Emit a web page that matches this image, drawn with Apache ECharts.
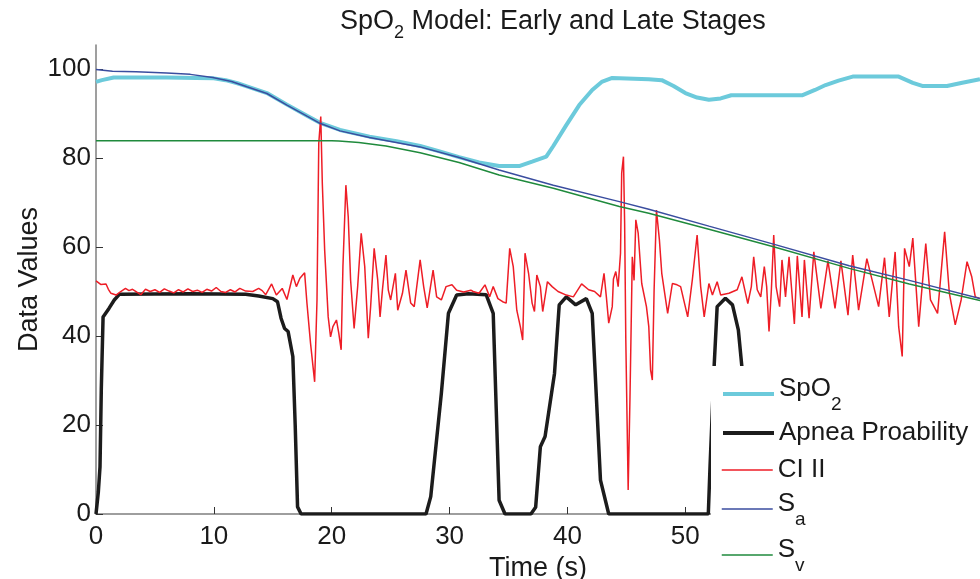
<!DOCTYPE html>
<html>
<head>
<meta charset="utf-8">
<script src="https://cdn.jsdelivr.net/npm/echarts@6/dist/echarts.min.js"></script>
<style>html,body{margin:0;padding:0;background:#fff}#c{width:980px;height:579px}</style>
</head>
<body>
<div id="c"></div>
<script>
// ---------- data ----------
var xTicks = [0, 10, 20, 30, 40, 50, 60, 70];
var yTicks = [0, 20, 40, 60, 80, 100];

var spo2Time = [0, 0.5, 1.5, 3, 6, 8.5, 10, 11, 12, 12.8, 14.5, 16.2, 17.9, 19, 20.7, 23.2, 25.5, 27.5, 29, 30.8, 32.5, 34.2, 35.9, 37.0, 38.2, 38.8, 39.9, 41.0, 42.1, 42.9, 43.8, 46.9, 48.0, 49.0, 50.0, 51.0, 52.0, 53.0, 53.9, 59.9, 61.0, 61.9, 63.0, 64.2, 68.1, 69.3, 70.1, 72.2, 73.5, 75];
var spo2Value = [97.1, 97.5, 98.1, 98.1, 98.1, 98.0, 97.9, 97.5, 96.8, 96.1, 94.6, 92.0, 89.5, 87.9, 86.3, 84.8, 83.8, 82.7, 81.6, 80.2, 79.0, 78.2, 78.2, 79.2, 80.3, 82.7, 87.4, 91.9, 95.3, 97.1, 98.0, 97.7, 97.5, 96.2, 94.6, 93.6, 93.1, 93.4, 94.1, 94.1, 95.3, 96.4, 97.4, 98.3, 98.3, 96.9, 96.2, 96.2, 96.9, 97.7];

var apneaTime = [0, 0.2, 0.34, 0.45, 0.6, 1.1, 1.55, 2.0, 8, 12.7, 13.8, 15.0, 15.4, 15.7, 16.0, 16.3, 16.7, 16.9, 17.1, 17.4, 28.0, 28.4, 29.3, 29.9, 30.6, 31.6, 33.1, 33.7, 34.2, 34.7, 36.9, 37.3, 37.7, 38.1, 38.9, 39.3, 39.9, 40.7, 41.6, 42.1, 42.8, 43.5, 51.95, 52.1, 52.45, 52.7, 53.4, 54.0, 54.5, 54.8, 55.3, 55.6, 75];
var apneaValue = [0, 5, 10.6, 28, 44.3, 46.2, 48.1, 49.4, 49.5, 49.4, 49.0, 48.4, 47.7, 44, 41.7, 41.0, 35.4, 20, 1.6, 0, 0, 3.9, 27.1, 45.1, 49.2, 49.5, 49.3, 45.1, 3.1, 0, 0, 1.5, 15.1, 17.4, 31.6, 47.0, 48.8, 47.0, 48.4, 45.1, 7.6, 0, 0, 11, 33.5, 46.6, 48.5, 47.0, 41.3, 33, 10, 0, 0];

var ciTime = [0, 0.4, 0.85, 1.05, 1.27, 1.7, 2.1, 2.5, 2.8, 3.1, 3.5, 3.8, 4.2, 4.6, 5.0, 5.4, 5.8, 6.2, 6.6, 7.0, 7.4, 7.8, 8.2, 8.6, 9.0, 9.4, 9.8, 10.2, 10.6, 11.0, 11.4, 11.8, 12.2, 12.7, 13.3, 13.8, 14.1, 14.4, 14.9, 15.3, 15.8, 16.2, 16.7, 17.0, 17.3, 17.7, 17.9, 18.2, 18.55, 18.75, 18.9, 19.07, 19.2, 19.4, 19.7, 19.9, 20.1, 20.4, 20.6, 20.8, 20.95, 21.2, 21.4, 21.6, 21.9, 22.2, 22.5, 22.8, 23.1, 23.3, 23.6, 23.9, 24.1, 24.3, 24.6, 24.8, 25.0, 25.4, 25.6, 26.0, 26.3, 26.7, 27.0, 27.5, 27.8, 28.1, 28.6, 28.9, 29.3, 29.7, 30.2, 30.6, 31.2, 31.8, 32.0, 32.5, 33.0, 33.4, 33.7, 34.1, 34.5, 34.8, 35.1, 35.4, 35.7, 36.0, 36.2, 36.4, 36.7, 37.0, 37.2, 37.4, 37.7, 37.9, 38.3, 38.7, 39.2, 39.9, 40.5, 41.2, 41.8, 42.3, 42.8, 43.1, 43.3, 43.5, 43.8, 43.9, 44.1, 44.3, 44.5, 44.6, 44.75, 44.85, 44.95, 45.15, 45.3, 45.5, 45.65, 45.8, 46.0, 46.3, 46.7, 46.9, 47.05, 47.2, 47.35, 47.55, 47.8, 48.0, 48.5, 48.9, 49.3, 49.6, 50.2, 50.6, 51.0, 51.3, 51.6, 52.0, 52.3, 52.7, 53.0, 53.7, 54.4, 54.8, 55.3, 55.6, 55.8, 56.1, 56.4, 56.7, 56.9, 57.1, 57.3, 57.5, 57.7, 58.0, 58.2, 58.5, 58.8, 59.25, 59.5, 59.9, 60.1, 60.5, 60.9, 61.5, 62.1, 62.7, 63.2, 63.8, 64.2, 64.7, 65.4, 66.4, 66.9, 67.3, 67.8, 68.1, 68.4, 68.6, 69.0, 69.3, 69.8, 70.4, 70.8, 71.4, 72.0, 72.4, 72.9, 73.4, 73.9, 74.3, 74.6, 75];
var ciValue = [52.4, 51.6, 51.7, 50.5, 49.6, 49.2, 50.0, 50.7, 50.2, 50.5, 49.8, 49.3, 50.5, 50.0, 50.4, 49.8, 50.6, 50.1, 49.7, 50.4, 49.9, 50.6, 50.0, 50.3, 49.8, 50.5, 50.1, 50.9, 50.0, 49.8, 50.4, 49.9, 50.7, 50.1, 50.0, 50.7, 50.2, 49.3, 51.7, 49.2, 50.7, 48.2, 53.7, 51.1, 53.0, 54.2, 47.3, 38.4, 29.7, 48.1, 83.3, 89.3, 74.4, 59.3, 44.3, 39.8, 42.1, 43.6, 40.6, 36.9, 55.6, 73.9, 66.8, 52.6, 41.7, 51.1, 63.1, 55.6, 39.5, 46.6, 59.7, 52.6, 44.3, 50.3, 58.2, 50.3, 48.1, 54.1, 45.8, 49.6, 54.8, 47.4, 46.6, 57.1, 51.1, 46.3, 54.8, 48.8, 48.1, 51.1, 51.5, 50.3, 49.9, 50.3, 50.0, 49.6, 51.5, 48.8, 51.1, 48.4, 47.7, 47.4, 59.7, 55.6, 45.8, 42.1, 39.1, 58.6, 54.1, 47.4, 45.5, 53.7, 51.1, 45.5, 52.2, 51.1, 50.0, 49.2, 48.8, 51.7, 50.4, 50.0, 48.8, 54.1, 48.8, 42.9, 46.6, 52.8, 54.5, 51.1, 58.6, 76.6, 80.3, 65.4, 39.1, 5.4, 25.6, 57.8, 52.5, 66.1, 63.1, 51.8, 46.6, 42.1, 32.4, 30.1, 50.3, 68.3, 61.6, 54.1, 45.1, 51.8, 51.5, 51.1, 44.3, 52.8, 62.7, 51.1, 44.3, 51.8, 49.2, 52.2, 49.2, 49.6, 50.4, 53.3, 47.3, 51.1, 57.8, 50.4, 48.8, 55.6, 51.1, 41.0, 50.4, 62.7, 51.1, 46.6, 57.1, 48.8, 57.8, 42.7, 58.0, 44.3, 57.1, 44.0, 58.9, 46.2, 56.9, 46.2, 56.9, 44.7, 58.2, 45.8, 57.4, 46.6, 57.6, 44.3, 58.9, 42.1, 35.4, 59.7, 55.6, 62.0, 42.1, 60.8, 48.1, 45.1, 63.4, 49.6, 42.5, 48.1, 56.7, 53.3, 48.8, 48.4];

var saTime = [0, 1.4, 3.4, 6, 8, 9.9, 11.5, 12.8, 14.5, 16.2, 17.9, 19, 20.7, 23.2, 27.5, 30.8, 34.2, 38.8, 44.4, 46.9, 52, 57.4, 63.9, 69, 75];
var saValue = [99.9, 99.5, 99.4, 99.1, 98.8, 98.1, 97.2, 96.0, 94.5, 91.9, 89.4, 87.8, 86.1, 84.6, 82.5, 80.1, 77.3, 73.9, 70.2, 68.5, 64.7, 60.7, 55.8, 52.5, 48.4];

var svTime = [0, 20, 20.6, 22.3, 24.6, 27.5, 30.8, 34.2, 38.8, 44.4, 46.9, 52, 57.4, 63.9, 69, 75];
var svValue = [83.9, 83.9, 83.8, 83.5, 82.7, 81.2, 79.0, 76.2, 73.2, 69.1, 67.6, 64.0, 60.1, 55.2, 51.7, 48.0];

// ---------- chart ----------
function pairs(t, v) { return t.map(function (x, i) { return [x, v[i]]; }); }
var FONT = 'Liberation Sans, Arial, Helvetica, sans-serif';
var TXT = '#1a1a1a';
var colors = { spo2: '#6ccadb', apnea: '#1c1c1c', ci: '#ee1d26', sa: '#3a4d9f', sv: '#1f8a3c' };

var chart = echarts.init(document.getElementById('c'), null, { renderer: 'canvas' });

function mkLegend(name, top, width, fmt) {
  return {
    data: [{ name: name }],
    left: 721, top: top, padding: 0, orient: 'vertical',
    itemWidth: 51, itemHeight: 14, z: 120, selectedMode: false,
    lineStyle: { width: width },
    itemStyle: { opacity: 0, borderWidth: 0 },
    formatter: fmt,
    textStyle: {
      fontFamily: FONT, fontSize: 26, color: TXT,
      rich: {
        m: { fontFamily: FONT, fontSize: 26, color: TXT, padding: [0, 0, 10, 0] },
        p: { fontFamily: FONT, fontSize: 26, color: TXT },
        s: { fontFamily: FONT, fontSize: 19, color: TXT, padding: [22, 0, 0, 0] }
      }
    }
  };
}

var option = {
  animation: false,
  backgroundColor: '#fff',
  title: {
    text: '{m|SpO}{s|2}{m| Model: Early and Late Stages}',
    left: 340, top: 2, padding: 0,
    textStyle: {
      fontFamily: FONT, fontSize: 27, fontWeight: 'normal', color: TXT,
      rich: {
        m: { fontFamily: FONT, fontSize: 27, color: TXT },
        s: { fontFamily: FONT, fontSize: 18, color: TXT, padding: [22, 0, 0, 0] }
      }
    }
  },
  grid: { left: 96, right: 0, top: 45, bottom: 65, containLabel: false, outerBoundsMode: 'none' },
  xAxis: {
    type: 'value', min: 0, max: 75,
    name: 'Time (s)', nameLocation: 'middle', nameGap: 34,
    nameTextStyle: { fontFamily: FONT, fontSize: 27, color: TXT },
    axisLine: { show: true, lineStyle: { color: '#7f7f7f', width: 1.5 } },
    axisTick: { show: true, inside: true, length: 7, customValues: xTicks, lineStyle: { color: '#333', width: 1 } },
    axisLabel: { customValues: xTicks, fontFamily: FONT, fontSize: 26, color: TXT, margin: 10 },
    splitLine: { show: false }
  },
  yAxis: {
    type: 'value', min: 0, max: 105.4,
    name: 'Data Values', nameLocation: 'middle', nameGap: 53, nameRotate: 90, nameMoveOverlap: false,
    nameTextStyle: { fontFamily: FONT, fontSize: 27, color: TXT },
    axisLine: { show: true, lineStyle: { color: '#7f7f7f', width: 1.5 } },
    axisTick: { show: true, inside: true, length: 7, customValues: yTicks, lineStyle: { color: '#333', width: 1 } },
    axisLabel: { customValues: yTicks, fontFamily: FONT, fontSize: 26, color: TXT, margin: 5 },
    splitLine: { show: false }
  },
  legend: [
    mkLegend('SpO2', 376, 4, function () { return '{m|SpO}{s|2}'; }),
    mkLegend('Apnea Proability', 420, 4, function () { return '{p|Apnea Proability}'; }),
    mkLegend('CI II', 457, 1.5, function () { return '{p|CI II}'; }),
    mkLegend('Sa', 491, 1.5, function () { return '{m|S}{s|a}'; }),
    mkLegend('Sv', 537, 1.5, function () { return '{m|S}{s|v}'; })
  ],
  graphic: [{
    type: 'rect', left: 711, top: 366, z: 100,
    shape: { width: 269, height: 213 },
    style: { fill: '#ffffff' }
  }],
  series: [
    { name: 'SpO2', type: 'line', data: pairs(spo2Time, spo2Value), symbol: 'none', showSymbol: false, lineStyle: { color: colors.spo2, width: 4 }, itemStyle: { color: colors.spo2 } },
    { name: 'Apnea Proability', type: 'line', data: pairs(apneaTime, apneaValue), symbol: 'none', showSymbol: false, lineStyle: { color: colors.apnea, width: 3.5 }, itemStyle: { color: colors.apnea } },
    { name: 'CI II', type: 'line', data: pairs(ciTime, ciValue), symbol: 'none', showSymbol: false, lineStyle: { color: colors.ci, width: 1.5 }, itemStyle: { color: colors.ci } },
    { name: 'Sa', type: 'line', data: pairs(saTime, saValue), symbol: 'none', showSymbol: false, lineStyle: { color: colors.sa, width: 1.5 }, itemStyle: { color: colors.sa } },
    { name: 'Sv', type: 'line', data: pairs(svTime, svValue), symbol: 'none', showSymbol: false, lineStyle: { color: colors.sv, width: 1.5 }, itemStyle: { color: colors.sv } }
  ]
};
chart.setOption(option);
</script>
</body>
</html>
